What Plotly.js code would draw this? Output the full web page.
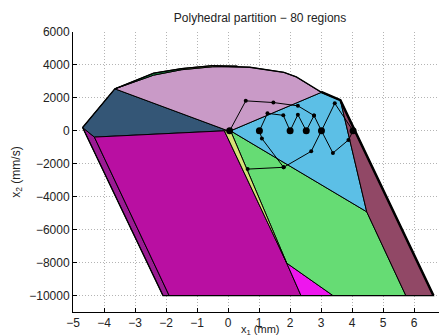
<!DOCTYPE html>
<html><head><meta charset="utf-8">
<script src="https://cdn.plot.ly/plotly-3.0.1.min.js"></script>
<style>html,body{margin:0;padding:0;background:#fff}#chart{width:439px;height:336px}</style>
</head><body><div id="chart"></div>
<script>
// ---- Region polygons (x1 in mm, x2 in mm/s) ----
const darkBlueX = [-4.69, -3.65, 0.0, -0.12, -4.31, -4.69];
const darkBlueY = [200, 2550, 0, 0, -380, 200];
const purpleStripX = [-4.69, -4.31, -1.9, -2.1, -4.69];
const purpleStripY = [200, -380, -10000, -10000, 200];
const magentaX = [-4.31, -0.12, 1.89, 2.35, -1.9, -4.31];
const magentaY = [-380, 0, -8030, -10000, -10000, -380];
const brightMagentaX = [1.89, 3.38, 2.35, 1.89];
const brightMagentaY = [-8030, -10000, -10000, -8030];
const yellowX = [-0.12, 0.08, 1.89, -0.12];
const yellowY = [0, 0, -8030, 0];
const greenX = [0.08, 4.47, 5.73, 3.38, 1.89, 0.08];
const greenY = [0, -4915, -10000, -10000, -8030, 0];
const lightBlueX = [0.08, 3.0, 3.62, 4.47, 0.08];
const lightBlueY = [0, 2330, 1860, -4915, 0];
const maroonX = [3.62, 6.62, 5.73, 4.47, 3.62];
const maroonY = [1860, -10000, -10000, -4915, 1860];
const pinkX = [-3.65, -2.4, -1.5, -0.5, 0.7, 1.8, 2.2, 3.0, 0.08, 0.0, -3.65];
const pinkY = [2550, 3380, 3710, 3890, 3860, 3550, 3270, 2330, 0, 0, 2550];
const darkGreenX = [-3.65, -2.4, -1.5, -1.5, -2.4, -3.65];
const darkGreenY = [2550, 3500, 3780, 3710, 3380, 2550];
const lightGreenX = [-1.5, -0.5, 0.3, -0.5, -1.5, -1.5];
const lightGreenY = [3780, 3960, 3930, 3890, 3710, 3780];
const outerX = [-4.69, -3.65, -2.4, -1.5, -0.5, 0.7, 1.8, 2.2, 3.0, 3.62, 6.62, -2.1, -4.69];
const outerY = [200, 2550, 3500, 3780, 3960, 3860, 3550, 3270, 2360, 1860, -10000, -10000, 200];
const rightEdgeX = [3.0, 3.62, 6.62];
const rightEdgeY = [2360, 1860, -10000];

// ---- Closed-loop trajectories ----
const traj1X = [0.05, 0.57, 1.46, 2.25, 2.77, 3.01, 3.44, 4.03, 3.88, 3.38, 3.01, 2.68, 1.79, 0.63];
const traj1Y = [0, 1820, 1717, 1517, 928, 0, 1669, 0, -558, -1347, 0, -1244, -2215, -2324];
const traj2X = [1.01, 1.27, 1.78, 2.0, 2.25, 2.52, 2.77];
const traj2Y = [0, 1062, 940, 0, 983, 0, 928];
const traj3X = [1.01, 1.09, 1.79];
const traj3Y = [0, -467, -2215];
const bigDotsX = [0.05, 1.01, 2.0, 2.52, 3.01, 4.03];
const bigDotsY = [0, 0, 0, 0, 0, 0];

// ---- Axes ----
const xTickVals = [-5, -4, -3, -2, -1, 0, 1, 2, 3, 4, 5, 6];
const xTickText = ['\u22125', '\u22124', '\u22123', '\u22122', '\u22121', '0', '1', '2', '3', '4', '5', '6'];
const yTickVals = [6000, 4000, 2000, 0, -2000, -4000, -6000, -8000, -10000];
const yTickText = ['6000', '4000', '2000', '0', '\u22122000', '\u22124000', '\u22126000', '\u22128000', '\u221210000'];

function poly(x, y, color) {
  return {x: x, y: y, type: 'scatter', mode: 'lines', fill: 'toself', fillcolor: color,
          line: {color: '#000', width: 1}, hoverinfo: 'skip', showlegend: false};
}
function path(x, y, size) {
  return {x: x, y: y, type: 'scatter', mode: 'lines+markers',
          line: {color: '#000', width: 1}, marker: {color: '#000', size: size},
          hoverinfo: 'skip', showlegend: false};
}

const data = [
  poly(purpleStripX, purpleStripY, '#9a1a92'),
  poly(darkBlueX, darkBlueY, '#345676'),
  poly(magentaX, magentaY, '#b90fa2'),
  poly(brightMagentaX, brightMagentaY, '#ee16ee'),
  poly(greenX, greenY, '#66dc74'),
  poly(yellowX, yellowY, '#d6e276'),
  poly(lightBlueX, lightBlueY, '#5cbfe6'),
  poly(maroonX, maroonY, '#914866'),
  poly(pinkX, pinkY, '#c99ac7'),
  poly(darkGreenX, darkGreenY, '#1a9a4a'),
  poly(lightGreenX, lightGreenY, '#a6d66e'),
  {x: outerX, y: outerY, type: 'scatter', mode: 'lines', line: {color: '#000', width: 1.3}, hoverinfo: 'skip', showlegend: false},
  {x: rightEdgeX, y: rightEdgeY, type: 'scatter', mode: 'lines', line: {color: '#000', width: 2.5}, hoverinfo: 'skip', showlegend: false},
  path(traj1X, traj1Y, 4),
  path(traj2X, traj2Y, 4),
  path(traj3X, traj3Y, 4),
  {x: bigDotsX, y: bigDotsY, type: 'scatter', mode: 'markers', marker: {color: '#000', size: 7}, hoverinfo: 'skip', showlegend: false}
];

const fontFam = 'Liberation Sans, Arial, Helvetica, sans-serif';
const layout = {
  width: 439, height: 336,
  margin: {l: 73, r: 0, t: 32, b: 24, pad: 0},
  paper_bgcolor: '#fff', plot_bgcolor: '#fff',
  font: {family: fontFam, size: 12, color: '#222'},
  title: {text: 'Polyhedral partition \u2212 80 regions', font: {family: fontFam, size: 12, color: '#222'},
          x: 0.511, xref: 'paper', xanchor: 'center', y: 1 - 18/336, yanchor: 'middle'},
  xaxis: {range: [-5, 6.8], tickvals: xTickVals, ticktext: xTickText, ticks: 'inside', ticklen: 4,
          tickcolor: '#000', showline: true, linecolor: '#000', linewidth: 1, mirror: false,
          showgrid: true, gridcolor: '#b4b4b4', griddash: '1px,2px', gridwidth: 1, zeroline: false,
          tickfont: {size: 12, color: '#222'}},
  yaxis: {range: [-11000, 6000], tickvals: yTickVals, ticktext: yTickText, ticks: 'inside', ticklen: 4,
          tickcolor: '#000', showline: true, linecolor: '#000', linewidth: 1, mirror: false,
          showgrid: true, gridcolor: '#b4b4b4', griddash: '1px,2px', gridwidth: 1, zeroline: false,
          tickfont: {size: 12, color: '#222'},
          title: {text: 'x<sub>2</sub> (mm/s)', font: {size: 12, color: '#222'}, standoff: 6}},
  annotations: [{text: 'x<sub>1</sub> (mm)', xref: 'paper', yref: 'paper', x: 0.511, y: -(329.5 - 312) / 280,
                 xanchor: 'center', yanchor: 'middle', showarrow: false, font: {size: 11, color: '#222'}}]
};
Plotly.newPlot('chart', data, layout, {displayModeBar: false, staticPlot: true});
</script></body></html>
